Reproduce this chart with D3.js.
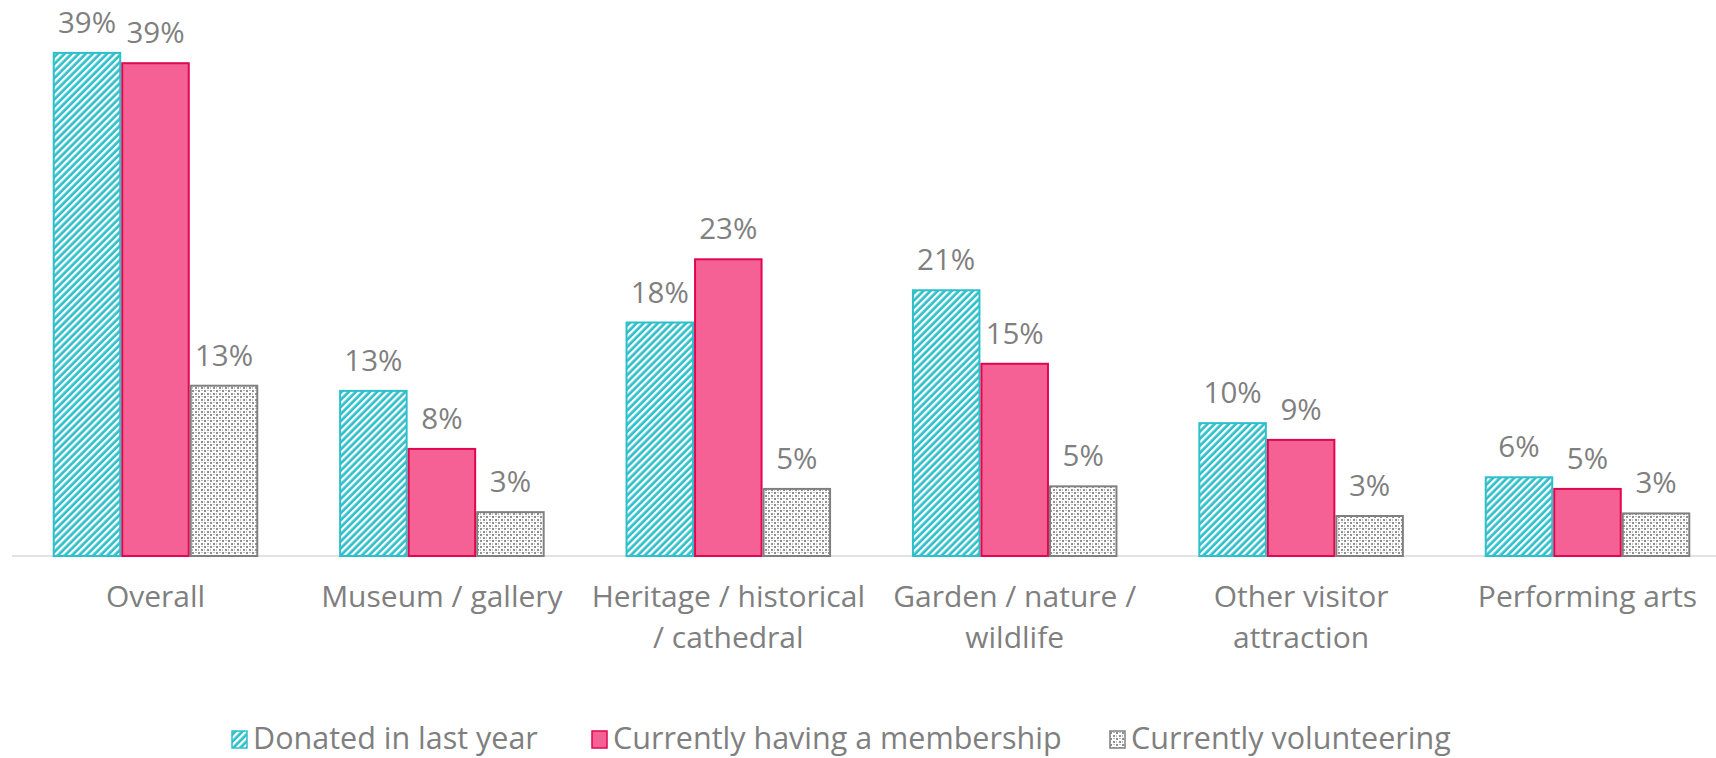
<html>
<script src="https://cdnjs.cloudflare.com/ajax/libs/d3/7.8.5/d3.min.js"></script>
<style>
  body { margin: 0; background: #fff; }
  text { font-family: "Open Sans", sans-serif; fill: #7f7f7f; }
</style>
<body>
<svg width="1716" height="758"></svg>
<script>
var categories = [
  ["Overall"],
  ["Museum / gallery"],
  ["Heritage / historical", "/ cathedral"],
  ["Garden / nature /", "wildlife"],
  ["Other visitor", "attraction"],
  ["Performing arts"]
];
var seriesNames = ["Donated in last year", "Currently having a membership", "Currently volunteering"];
var donated = [39.0, 12.8, 18.1, 20.6, 10.3, 6.1];
var membership = [38.2, 8.3, 23.0, 14.9, 9.0, 5.2];
var volunteering = [13.2, 3.4, 5.2, 5.4, 3.1, 3.3];
var labels = [
  ["39%", "13%", "18%", "21%", "10%", "6%"],
  ["39%", "8%", "23%", "15%", "9%", "5%"],
  ["13%", "3%", "5%", "5%", "3%", "3%"]
];
var seriesValues = [donated, membership, volunteering];

var svg = d3.select("svg");
var defs = svg.append("defs");

// teal diagonal stripes
var p1 = defs.append("pattern")
  .attr("id", "stripes")
  .attr("patternUnits", "userSpaceOnUse")
  .attr("width", 5).attr("height", 5)
  .attr("patternTransform", "rotate(45)");
p1.append("rect").attr("width", 5).attr("height", 5).attr("fill", "#2fbfca");
p1.append("rect").attr("width", 2.3).attr("height", 5).attr("fill", "#fff");

// gray mesh
var p2 = defs.append("pattern")
  .attr("id", "mesh")
  .attr("patternUnits", "userSpaceOnUse")
  .attr("width", 6).attr("height", 6);
p2.append("rect").attr("width", 6).attr("height", 6).attr("fill", "#fff");
p2.append("rect").attr("x", 0).attr("y", 0).attr("width", 2).attr("height", 2).attr("fill", "#8f8f8f");
p2.append("rect").attr("x", 3).attr("y", 3).attr("width", 2).attr("height", 2).attr("fill", "#8f8f8f");
p2.append("rect").attr("x", 3).attr("y", 0).attr("width", 2).attr("height", 1).attr("fill", "#bdbdbd");
p2.append("rect").attr("x", 0).attr("y", 3).attr("width", 1).attr("height", 2).attr("fill", "#bdbdbd");

var fills = ["url(#stripes)", "#f56194", "url(#mesh)"];
var strokes = ["#2fbfca", "#e0074f", "#808080"];

var x0 = d3.scaleBand()
  .domain(d3.range(categories.length))
  .range([12.3, 12.3 + 6 * 286.4]);

var x1 = d3.scaleBand()
  .domain(d3.range(seriesNames.length))
  .range([0, x0.bandwidth()])
  .paddingOuter(0.59);

var y = d3.scaleLinear()
  .domain([0, 40])
  .range([556, 40]);

// axis baseline
svg.append("line")
  .attr("x1", 12).attr("x2", 1716)
  .attr("y1", y(0)).attr("y2", y(0))
  .attr("stroke", "#d9d9d9")
  .attr("stroke-width", 1.5);

seriesValues.forEach(function(vals, s) {
  var g = svg.append("g");
  g.selectAll("rect")
    .data(vals)
    .enter()
    .append("rect")
    .attr("x", function(d, i) { return x0(i) + x1(s) + 1; })
    .attr("y", function(d) { return y(d); })
    .attr("width", x1.bandwidth() - 2)
    .attr("height", function(d) { return y(0) - y(d); })
    .attr("fill", fills[s])
    .attr("stroke", strokes[s])
    .attr("stroke-width", 2);

  g.selectAll("text")
    .data(vals)
    .enter()
    .append("text")
    .attr("x", function(d, i) { return x0(i) + x1(s) + x1.bandwidth() / 2; })
    .attr("y", function(d) { return y(d) - 20; })
    .attr("text-anchor", "middle")
    .style("font-size", "29.5px")
    .text(function(d, i) { return labels[s][i]; });
});

// category labels
var cat = svg.append("g").selectAll("text")
  .data(categories)
  .enter()
  .append("text")
  .attr("text-anchor", "middle")
  .style("font-size", "30px");
cat.each(function(lines, i) {
  var t = d3.select(this);
  lines.forEach(function(l, k) {
    t.append("tspan")
      .attr("x", x0(i) + x0.bandwidth() / 2)
      .attr("y", 607 + k * 41)
      .text(l);
  });
});

// legend
var legendX = [232, 592, 1110];
var leg = svg.append("g");
seriesNames.forEach(function(name, s) {
  leg.append("rect")
    .attr("x", legendX[s]).attr("y", 731)
    .attr("width", 15).attr("height", 17)
    .attr("fill", fills[s])
    .attr("stroke", strokes[s])
    .attr("stroke-width", 1.5);
  leg.append("text")
    .attr("x", legendX[s] + 21)
    .attr("y", 749)
    .style("font-size", "30.5px")
    .text(name);
});
</script>
</body>
</html>
